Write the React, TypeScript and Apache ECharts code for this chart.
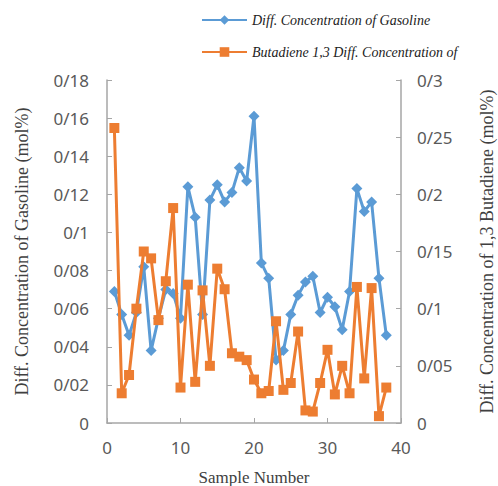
import React, { useEffect, useRef } from "react";
import * as echarts from "echarts";

const samples = [1,2,3,4,5,6,7,8,9,10,11,12,13,14,15,16,17,18,19,20,21,22,23,24,25,26,27,28,29,30,31,32,33,34,35,36,37,38];
const gasoline = [0.069,0.057,0.046,0.058,0.082,0.038,0.055,0.070,0.068,0.055,0.124,0.108,0.057,0.117,0.125,0.116,0.121,0.134,0.127,0.161,0.084,0.076,0.033,0.038,0.057,0.067,0.074,0.077,0.058,0.066,0.061,0.049,0.069,0.123,0.111,0.116,0.076,0.046];
const butadiene = [0.258,0.026,0.042,0.100,0.150,0.144,0.090,0.124,0.188,0.031,0.121,0.036,0.116,0.050,0.135,0.117,0.061,0.058,0.055,0.038,0.026,0.028,0.089,0.029,0.035,0.080,0.011,0.010,0.035,0.064,0.025,0.050,0.026,0.119,0.039,0.118,0.006,0.031];
const seriesNames = ["Diff. Concentration of Gasoline", "Butadiene 1,3 Diff. Concentration of"];
const leftAxisName = "Diff. Concentration of Gasoline (mol%)";
const rightAxisName = "Diff. Concentration of 1,3 Butadiene (mol%)";
const xAxisName = "Sample Number";

const fmt = (v: number) => (v === 0 ? "0" : String(+v.toFixed(2)).replace(".", "/"));

export default function App() {
  const ref = useRef<HTMLDivElement>(null);
  useEffect(() => {
    if (!ref.current) return;
    const chart = echarts.init(ref.current, null, { renderer: "svg" });
    const axisLine = { show: true, lineStyle: { color: "#a6a6a6", width: 1.5 } };
    const axisTick = { show: true, inside: true, length: 5, lineStyle: { color: "#a6a6a6" } };
    const tickLabel = { color: "#595959", fontSize: 17, fontFamily: "Noto Sans" };
    const nameStyle = { color: "#404040", fontSize: 18, fontFamily: "Liberation Serif" };
    chart.setOption({
      animation: false,
      backgroundColor: "#ffffff",
      legend: {
        orient: "vertical",
        left: 196,
        top: 8,
        itemWidth: 45,
        itemHeight: 12,
        itemGap: 18,
        textStyle: { fontFamily: "Liberation Serif", fontStyle: "italic", fontSize: 14, color: "#222" },
        data: seriesNames,
      },
      grid: { left: 107, right: 97, top: 80, bottom: 63, outerBoundsMode: "none", containLabel: false },
      xAxis: {
        type: "value",
        min: 0,
        max: 40,
        interval: 10,
        name: xAxisName,
        nameLocation: "middle",
        nameGap: 46,
        nameTextStyle: { ...nameStyle, fontSize: 17 },
        axisLine,
        axisTick,
        splitLine: { show: false },
        axisLabel: { ...tickLabel, margin: 16 },
      },
      yAxis: [
        {
          type: "value",
          min: 0,
          max: 0.18,
          interval: 0.02,
          position: "left",
          name: leftAxisName,
          nameLocation: "middle",
          nameGap: 76,
          nameTextStyle: nameStyle,
          axisLine,
          axisTick,
          splitLine: { show: false },
          axisLabel: { ...tickLabel, formatter: fmt, margin: 18 },
        },
        {
          type: "value",
          min: 0,
          max: 0.3,
          interval: 0.05,
          position: "right",
          name: rightAxisName,
          nameLocation: "middle",
          nameGap: 77,
          nameTextStyle: nameStyle,
          axisLine,
          axisTick,
          splitLine: { show: false },
          axisLabel: { ...tickLabel, formatter: fmt, margin: 16 },
        },
      ],
      series: [
        {
          name: seriesNames[0],
          type: "line",
          yAxisIndex: 0,
          data: samples.map((s, i) => [s, gasoline[i]]),
          symbol: "diamond",
          symbolSize: 11,
          lineStyle: { color: "#5B9BD5", width: 3 },
          itemStyle: { color: "#5B9BD5" },
          z: 2,
        },
        {
          name: seriesNames[1],
          type: "line",
          yAxisIndex: 1,
          data: samples.map((s, i) => [s, butadiene[i]]),
          symbol: "rect",
          symbolSize: 10,
          lineStyle: { color: "#ED7D31", width: 3 },
          itemStyle: { color: "#ED7D31" },
          z: 3,
        },
      ],
    });
    return () => chart.dispose();
  }, []);
  return <div ref={ref} style={{ width: 498, height: 486, position: "absolute", left: 0, top: 0 }} />;
}
